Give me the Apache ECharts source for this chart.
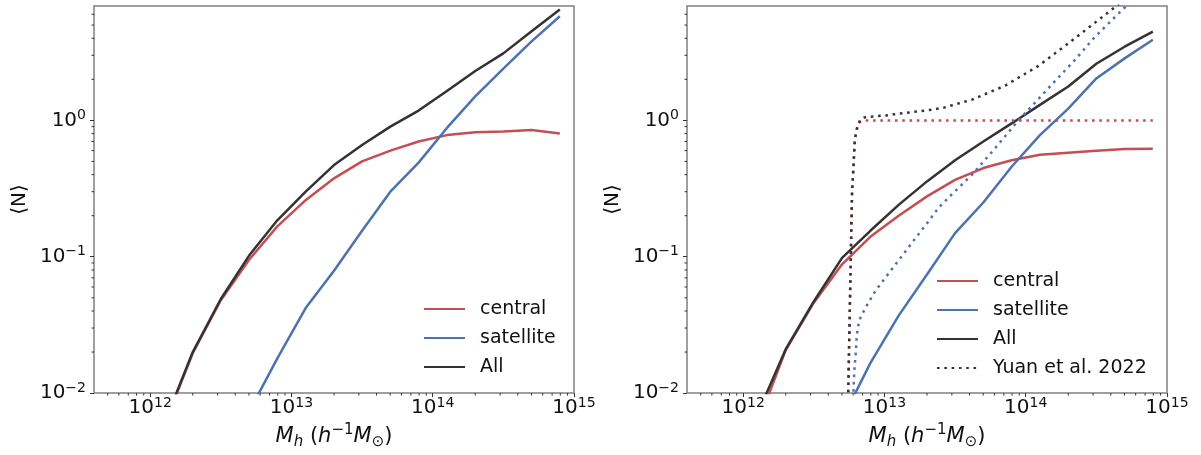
<!DOCTYPE html>
<html>
<head>
<meta charset="utf-8">
<script src="https://cdn.jsdelivr.net/npm/echarts@6/dist/echarts.min.js"></script>
<style>
html, body { margin: 0; padding: 0; background: #fff; }
#hod { width: 1201px; height: 455px; }
</style>
</head>
<body>
<div id="hod"></div>
<script>
// halo mass bins (h^-1 Msun)
var massBins = [1.26e12, 2.0e12, 3.16e12, 5.01e12, 7.94e12, 1.26e13, 2.0e13, 3.16e13,
                5.01e13, 7.94e13, 1.26e14, 2.0e14, 3.16e14, 5.01e14, 7.94e14];

// left panel
var cenLeft = [0.0059, 0.0196, 0.048, 0.095, 0.167, 0.26, 0.376, 0.50, 0.60, 0.70, 0.78, 0.82, 0.83, 0.85, 0.80];
var satLeft = [null, null, null, 0.0073, 0.018, 0.042, 0.079, 0.155, 0.30, 0.49, 0.88, 1.5, 2.4, 3.8, 5.8];
var allLeft = [0.006, 0.020, 0.049, 0.102, 0.185, 0.30, 0.47, 0.66, 0.90, 1.18, 1.64, 2.3, 3.1, 4.5, 6.5];

// right panel
var cenRight = [0.0059, 0.0207, 0.046, 0.088, 0.14, 0.20, 0.277, 0.366, 0.447, 0.51, 0.56, 0.58, 0.60, 0.617, 0.62];
var satRight = [null, null, null, 0.0064, 0.0166, 0.037, 0.074, 0.149, 0.25, 0.457, 0.78, 1.22, 2.03, 2.85, 3.9];
var allRight = [0.007, 0.021, 0.047, 0.098, 0.155, 0.24, 0.357, 0.51, 0.70, 0.95, 1.3, 1.77, 2.6, 3.47, 4.47];

// Yuan et al. 2022 model curves
var yuanCenMass = [5.50e12, 5.89e12, 6.17e12, 6.46e12, 6.76e12, 7.19e12, 7.94e14];
var yuanCen = [0.007, 0.28, 0.72, 0.91, 0.98, 1.0, 1.0];
var yuanSatMass = [5.96e12, 6.03e12, 6.11e12, 6.27e12, 6.37e12, 6.61e12, 7.40e12, 8.71e12, 1.023e13,
                   1.259e13, 1.578e13, 1.95e13, 2.427e13, 2.858e13, 4.17e13, 6.03e13, 8.87e13,
                   1.047e14, 1.61e14, 2.24e14, 3.09e14, 6.31e14];
var yuanSat = [0.008, 0.0102, 0.0144, 0.020, 0.0267, 0.034, 0.043, 0.057, 0.071, 0.094, 0.128, 0.17,
               0.23, 0.273, 0.40, 0.62, 1.0, 1.2, 1.94, 2.79, 4.1, 8.5];
var yuanAllMass = [5.50e12, 5.89e12, 6.17e12, 6.46e12, 6.76e12, 7.19e12, 8.02e12, 1.023e13, 1.159e13,
                   2.065e13, 2.63e13, 4.17e13, 7.16e13, 1.23e14, 2.09e14, 3.16e14, 5.01e14];
var yuanAll = [0.007, 0.29, 0.73, 0.93, 1.01, 1.05, 1.065, 1.087, 1.107, 1.19, 1.24, 1.42, 1.80, 2.51,
               3.8, 5.3, 7.7];

// axes
var xMin = 4e11, xMax = 1.00001e15, yMin = 0.01, yMax = 6.9;
var xTicks = [1e12, 1e13, 1e14, 1e15];
var yTicks = [0.01, 0.1, 1];

var RED = '#c44e52', BLUE = '#4c72b0', DARK = '#333333';
var FONT = 'DejaVu Sans';

function pairs(xs, ys) {
    return xs.map(function (x, i) { return [x, ys[i]]; });
}

// log minor ticks 2..9 x 10^k inside [lo, hi]
function minorValues(lo, hi) {
    var out = [];
    for (var k = Math.floor(Math.log10(lo)); k <= Math.ceil(Math.log10(hi)); k++) {
        for (var m = 2; m <= 9; m++) {
            var v = m * Math.pow(10, k);
            if (v > lo && v < hi) out.push(v);
        }
    }
    return out;
}

function expLabel(v) {
    var e = Math.round(Math.log10(v));
    return '{b|10}{s|' + String(e).replace('-', '\u2212') + '}';
}

var tickRich = {
    b: { fontSize: 20, fontFamily: FONT, color: '#111', lineHeight: 24 },
    s: { fontSize: 14, fontFamily: FONT, color: '#111', lineHeight: 14, verticalAlign: 'top' }
};

function xAxisFor(i) {
    return {
        type: 'log', gridIndex: i, min: xMin, max: xMax, logBase: 10,
        axisLine: { show: false },
        splitLine: { show: false },
        axisTick: { show: true, customValues: xTicks, length: 4, lineStyle: { color: '#333', width: 1 } },
        axisLabel: { customValues: xTicks, margin: 3, showMinLabel: true, showMaxLabel: true,
                     hideOverlap: false, formatter: expLabel, rich: tickRich },
        name: '{i|M}{isub|h}{n| (}{i|h}{sup|\u22121}{i|M}{sub|\u2299}{n|)}',
        nameLocation: 'middle', nameGap: 26,
        nameTextStyle: {
            rich: {
                i: { fontSize: 21, fontFamily: FONT, fontStyle: 'italic', color: '#111', lineHeight: 27 },
                n: { fontSize: 21, fontFamily: FONT, color: '#111', lineHeight: 27 },
                isub: { fontSize: 15, fontFamily: FONT, fontStyle: 'italic', color: '#111', lineHeight: 15, verticalAlign: 'bottom' },
                sub: { fontSize: 15, fontFamily: FONT, color: '#111', lineHeight: 15, verticalAlign: 'bottom' },
                sup: { fontSize: 15, fontFamily: FONT, color: '#111', lineHeight: 15, verticalAlign: 'top' }
            }
        }
    };
}

function yAxisFor(i) {
    return {
        type: 'log', gridIndex: i, min: yMin, max: yMax, logBase: 10,
        axisLine: { show: false },
        splitLine: { show: false },
        axisTick: { show: true, customValues: yTicks, length: 4, lineStyle: { color: '#333', width: 1 } },
        axisLabel: { customValues: yTicks, margin: 8, formatter: expLabel, rich: tickRich },
        name: '\u27E8N\u27E9',
        nameLocation: 'middle', nameGap: 64,
        nameTextStyle: { fontSize: 20, fontFamily: FONT, color: '#111' }
    };
}

function minorTicks(i, dir) {
    var data = dir === 'x'
        ? minorValues(xMin, xMax).map(function (v) { return [v, yMin]; })
        : minorValues(yMin, yMax).map(function (v) { return [xMin, v]; });
    return {
        type: 'custom', xAxisIndex: i, yAxisIndex: i, silent: true, clip: false, z: 1,
        data: data,
        renderItem: function (params, api) {
            var p = api.coord([api.value(0), api.value(1)]);
            var q = dir === 'x' ? [p[0], p[1] + 2.5] : [p[0] - 2.5, p[1]];
            return {
                type: 'line',
                shape: { x1: p[0], y1: p[1], x2: q[0], y2: q[1] },
                style: { stroke: '#333', lineWidth: 1 }
            };
        }
    };
}

function solid(name, i, color, ys) {
    return {
        name: name, type: 'line', xAxisIndex: i, yAxisIndex: i,
        data: pairs(massBins, ys), symbol: 'none', clip: true,
        lineStyle: { color: color, width: 2.5 }, itemStyle: { color: color }, z: 3
    };
}

function dotted(name, color, xs, ys) {
    return {
        name: name, type: 'line', xAxisIndex: 1, yAxisIndex: 1,
        data: pairs(xs, ys), symbol: 'none', clip: true,
        lineStyle: { color: color, width: 2.5, type: [2.6, 4.7], cap: 'butt' },
        itemStyle: { color: color }, z: 4
    };
}

function legendAt(left, top, names) {
    return {
        data: names, orient: 'vertical', left: left, top: top, padding: 0,
        itemWidth: 41, itemHeight: 14, itemGap: 9, selectedMode: false,
        itemStyle: { opacity: 0 },
        textStyle: { fontSize: 19, fontFamily: FONT, color: '#111', lineHeight: 20, padding: [0, 0, 0, 10] }
    };
}

var dom = document.getElementById('hod');
var myChart = echarts.init(dom, null, { renderer: 'canvas' });

var option = {
    animation: false,
    backgroundColor: '#fff',
    grid: [
        { left: 94, top: 6, width: 480, height: 389, show: true, borderColor: '#808080', borderWidth: 1.5 },
        { left: 687, top: 6, width: 480, height: 389, show: true, borderColor: '#808080', borderWidth: 1.5 }
    ],
    xAxis: [xAxisFor(0), xAxisFor(1)],
    yAxis: [yAxisFor(0), yAxisFor(1)],
    legend: [
        legendAt(423, 299, ['central', 'satellite', 'All']),
        legendAt(936, 271, ['central', 'satellite', 'All', 'Yuan et al. 2022'])
    ],
    series: [
        solid('central', 0, RED, cenLeft),
        solid('satellite', 0, BLUE, satLeft),
        solid('All', 0, DARK, allLeft),
        solid('central', 1, RED, cenRight),
        solid('satellite', 1, BLUE, satRight),
        solid('All', 1, DARK, allRight),
        dotted('Yuan central', RED, yuanCenMass, yuanCen),
        dotted('Yuan satellite', BLUE, yuanSatMass, yuanSat),
        dotted('Yuan et al. 2022', DARK, yuanAllMass, yuanAll),
        minorTicks(0, 'x'), minorTicks(0, 'y'),
        minorTicks(1, 'x'), minorTicks(1, 'y')
    ]
};

if (option && typeof option === 'object') {
    myChart.setOption(option, true);
}
</script>
</body>
</html>
